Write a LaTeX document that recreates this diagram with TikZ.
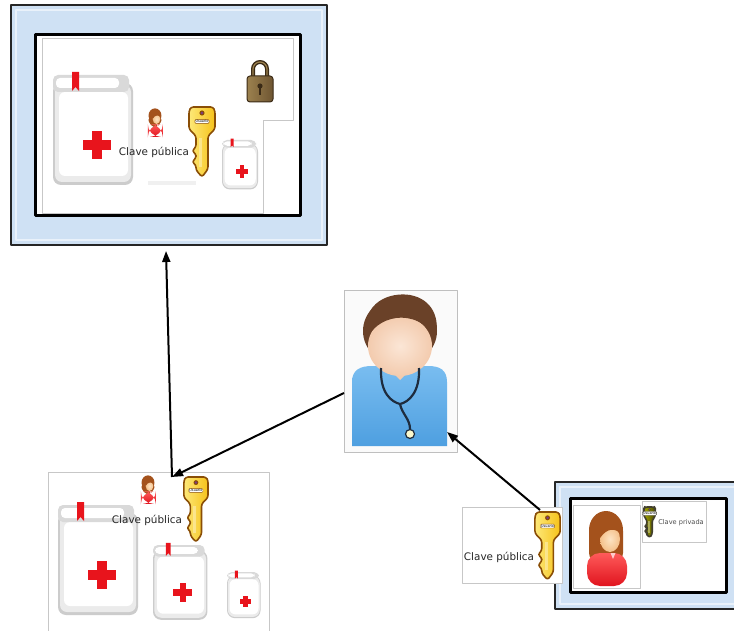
\documentclass[tikz,border=0pt]{standalone}
\usepackage{fontspec}
\setmainfont{DejaVu Sans}
\usetikzlibrary{arrows.meta}

\definecolor{frameblue}{HTML}{CFE1F4}
\definecolor{crossred}{HTML}{E8141C}
\definecolor{keyfill}{HTML}{F6C21A}
\definecolor{keylight}{HTML}{FDE878}
\definecolor{keyline}{HTML}{8A4E06}
\definecolor{keyhole}{HTML}{7A3A8A}
\definecolor{hairbrown}{HTML}{A4521C}
\definecolor{skinwarm}{HTML}{F4C08A}
\definecolor{skinlight}{HTML}{FDE4C4}
\definecolor{shirtred}{HTML}{E0141E}
\definecolor{shirtlight}{HTML}{FF5A5A}
\definecolor{dochair}{HTML}{6A4128}
\definecolor{docskin}{HTML}{F3CBAE}
\definecolor{docskinlt}{HTML}{FBE6D6}
\definecolor{docblue}{HTML}{4E9FE0}
\definecolor{docbluelt}{HTML}{79BDF0}
\definecolor{stethcol}{HTML}{1E2C3E}
\definecolor{lockbody}{HTML}{6E5532}
\definecolor{locklight}{HTML}{9C814E}
\definecolor{lockdark}{HTML}{3A2A16}

\tikzset{
  bluebox/.style={draw=black!85, line width=2, fill=frameblue, inner sep=0, outer sep=0, anchor=north west},
  innerbox/.style={draw=black, line width=3, fill=white, inner sep=0, outer sep=0, anchor=north west},
  card/.style={draw=black!22, line width=0.8, fill=white, inner sep=0, outer sep=0, anchor=north west},
  glassline/.style={draw=white, opacity=0.55, line width=1.5},
  pubtext/.style={font=\fontsize{10.4}{12}\selectfont, text=black!85, inner sep=0},
  privtext/.style={font=\fontsize{6.6}{7}\selectfont, text=black!70, inner sep=0},
  link/.style={draw=black, line width=2, -{Triangle[length=11,width=8]}},
  % medical record sheet, 80 x 110 units, origin at its top left corner
  medrec/.pic={
    \fill[black!20, rounded corners=8] (0,8) rectangle (80,110);
    \fill[black!8, rounded corners=7] (2,10) rectangle (78,107);
    \fill[white, rounded corners=6] (6,17) rectangle (75,101);
    \fill[black!15, rounded corners=5] (0,0) rectangle (76,17);
    \fill[white, rounded corners=4] (3,3) rectangle (66,13);
    \fill[crossred] (19,-3) -- (26,-3) -- (26,16) -- (22.5,12) -- (19,16) -- cycle;
    \fill[crossred] (39,56) rectangle (49,84);
    \fill[crossred] (30,65) rectangle (58,75);
  },
  % golden key, 30 x 70 units
  goldkey/.pic={
    \shadedraw[left color=keylight, right color=keyfill, draw=keyline, line width=1.6, rounded corners=2.5]
      (4,0) -- (26,0) -- (28,4) -- (28,22) -- (21,29) -- (21,62) -- (15,70) -- (9,63)
      -- (9,58) -- (5,55) -- (9,51) -- (9,47) -- (5,44) -- (9,40) -- (9,29)
      -- (2,22) -- (2,4) -- cycle;
    \fill[white, opacity=0.35] (12,31) rectangle (15,60);
    \fill[keyline] (15,6) circle (2.6);
    \fill[keyhole] (15,6) circle (1.4);
    \node[fill=white, draw=keyline, line width=0.4, rounded corners=1, inner sep=0.6,
          font=\fontsize{3.4}{3.4}\selectfont] (-tag) at (15,14.5) {Usuario};
  },
  % patient figure, 44 x 76 units
  patient/.pic={
    \fill[hairbrown, rounded corners=9] (4,12) rectangle (38,52);
    \fill[hairbrown] (21,20) ellipse [x radius=17, y radius=19];
    \shade[top color=shirtlight, bottom color=shirtred, rounded corners=13] (2,43) rectangle (42,76);
    \shade[inner color=skinlight, outer color=skinwarm] (25,29) ellipse [x radius=10, y radius=13];
    \fill[hairbrown] (13,14) .. controls (22,7) and (34,11) .. (37,25)
      .. controls (30,17) and (22,18) .. (15,28) -- cycle;
    \fill[white!80!red] (25.5,43) -- (30.5,43) -- (28,49) -- cycle;
  },
  % padlock, 26 x 44 units
  padlock/.pic={
    \draw[lockdark, line width=4] (6,20) -- (6,11) arc (180:360:7) -- (20,20);
    \draw[locklight, line width=1.2] (6,20) -- (6,11) arc (180:360:7) -- (20,20);
    \shadedraw[left color=locklight, right color=lockbody, draw=lockdark, line width=1, rounded corners=3]
      (0,18) rectangle (26,44);
    \fill[lockdark] (13,28) circle (2.6);
    \fill[lockdark] (11.8,28) rectangle (14.2,37);
  },
}

\begin{document}
\begin{tikzpicture}[x=1pt, y=-1pt, line join=round]
\useasboundingbox[fill=white] (0,0) rectangle (734,631);

% ---- encrypted record, top left ----
\node[bluebox, minimum width=316, minimum height=240] (topframe) at (11,5) {};
\draw[glassline] (16,10) rectangle (322,240);
\node[innerbox, minimum width=265, minimum height=181] (topinner) at (35,35) {};
\draw[draw=black!22, line width=0.8, fill=white]
  (42,38) -- (293,38) -- (293,120) -- (263,120) -- (263,213) -- (42,213) -- cycle;
\fill[black!6] (148,181) rectangle (196,185);
\pic (recA) at (53,75) {medrec};
\pic[scale=0.45] (recB) at (222,140) {medrec};
\pic[scale=0.38] (ownerA) at (147,108) {patient};
\node[pubtext] (pubA) at (154,152) {Clave pública};
\pic (keyA) at (187,107) {goldkey};
\pic (lockA) at (247,58) {padlock};

% ---- plain records, bottom left ----
\node[card, minimum width=221, minimum height=170] (records) at (48,472) {};
\pic (recC) at (58,505) {medrec};
\pic[scale=0.68] (recD) at (153,545) {medrec};
\pic[scale=0.42] (recE) at (227,572) {medrec};
\pic[scale=0.38] (ownerB) at (140,475) {patient};
\node[pubtext] (pubB) at (147,520) {Clave pública};
\pic[scale=0.93] (keyB) at (182,477) {goldkey};

% ---- doctor ----
\node[card, draw=black!25, fill=black!2, minimum width=113, minimum height=162] (doctor) at (344,290) {};
\shade[top color=docbluelt, bottom color=docblue]
  (352,446) -- (352,382) .. controls (352,370) and (360,366) .. (372,366)
  -- (428,366) .. controls (440,366) and (447,370) .. (447,382) -- (447,446) -- cycle;
\fill[docskin] (386,345) rectangle (414,370);
\fill[docskin] (386,366) -- (414,366) -- (400,380) -- cycle;
\fill[dochair] (400,331) ellipse [x radius=37, y radius=34];
\shade[inner color=docskinlt, outer color=docskin] (400,346) ellipse [x radius=32, y radius=30];
\fill[dochair] (366,340) .. controls (360,300) and (392,292) .. (410,295)
  .. controls (432,299) and (441,318) .. (435,340)
  .. controls (428,322) and (410,316) .. (396,318)
  .. controls (382,320) and (372,328) .. (366,340) -- cycle;
\draw[stethcol, line width=2.2] (381,368) .. controls (380,394) and (392,402) .. (400,404)
  .. controls (409,402) and (420,392) .. (419,368);
\draw[stethcol, line width=2.2] (400,404) .. controls (402,414) and (410,419) .. (410,429);
\filldraw[fill=black!8!yellow!20, draw=stethcol, line width=1.2] (410,434) circle (4.5);

% ---- patient with key pair, bottom right ----
\node[bluebox, minimum width=190, minimum height=127] (keyframe) at (555,482) {};
\draw[glassline] (560,487) rectangle (740,604);
\node[innerbox, minimum width=156, minimum height=94] (keyinner) at (570,498) {};
\node[card, minimum width=67, minimum height=83] (ownercard) at (573,505) {};
\pic (ownerC) at (585,510) {patient};
\node[card, minimum width=64, minimum height=41] (privcard) at (642,501) {};
\begin{scope}
  \colorlet{keyfill}{black!45!olive}
  \colorlet{keylight}{olive!70!yellow}
  \colorlet{keyline}{black!70!olive}
  \pic[scale=0.44] (keyD) at (643,507) {goldkey};
\end{scope}
\node[privtext] (privtxt) at (681,523) {Clave privada};
\node[card, minimum width=100, minimum height=76] (pubcard) at (462,507) {};
\node[pubtext] (pubC) at (499,557) {Clave pública};
\pic[scale=0.97] (keyC) at (533,512) {goldkey};

% ---- connectors ----
\coordinate (recordsTop) at (172,477);
\coordinate (frameBottom) at (166,251);
\coordinate (doctorLeft) at (344,393);
\coordinate (doctorCorner) at (447,432);
\coordinate (pubKeyTop) at (540,510);
\draw[link] (recordsTop) -- (frameBottom);
\draw[link] (doctorLeft) -- (recordsTop);
\draw[link] (pubKeyTop) -- (doctorCorner);
\end{tikzpicture}
\end{document}
